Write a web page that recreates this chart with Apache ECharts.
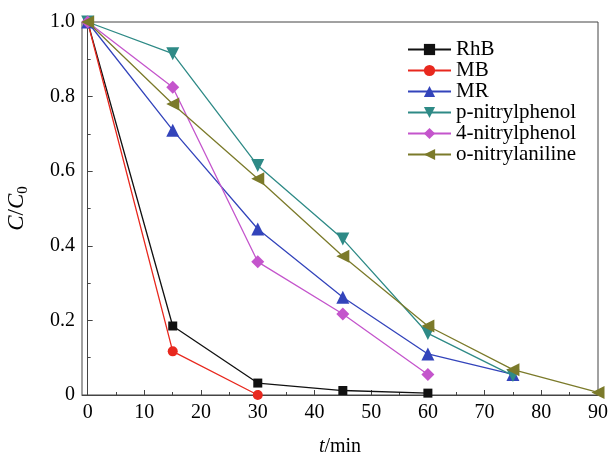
<!DOCTYPE html>
<html>
<head>
<meta charset="utf-8">
<script src="https://cdn.jsdelivr.net/npm/echarts@6/dist/echarts.min.js"></script>
<style>
  html, body { margin: 0; padding: 0; background: #fff; }
  #chart { width: 611px; height: 454px; }
</style>
</head>
<body>
<div id="chart"></div>
<script>
// time points (min)
var times = [0, 15, 30, 45, 60, 75, 90]
var xLabels = [0, 10, 20, 30, 40, 50, 60, 70, 80, 90]
var xMinor = [5, 15, 25, 35, 45, 55, 65, 75, 85]

var rhb = [1.0, 0.185, 0.032, 0.012, 0.005]
var mb = [1.0, 0.117, 0.0]
var mr = [1.0, 0.71, 0.445, 0.262, 0.11, 0.055]
var pNitro = [1.0, 0.915, 0.615, 0.418, 0.165, 0.052]
var fourNitro = [1.0, 0.825, 0.357, 0.217, 0.055]
var oNitro = [1.0, 0.78, 0.58, 0.372, 0.185, 0.068, 0.007]

function pairs (vals) {
  return vals.map(function (v, i) { return [times[i], v] })
}

var font = 'Liberation Serif'
var fs = 20
var myChart = echarts.init(document.getElementById('chart'))

function mkSeries (name, vals, color, symbol, size, rotate) {
  return {
    name: name,
    type: 'line',
    data: pairs(vals),
    symbol: symbol,
    symbolSize: size,
    symbolRotate: rotate || 0,
    lineStyle: { color: color, width: 1.3 },
    itemStyle: { color: color },
    z: 3
  }
}

var option = {
  animation: false,
  grid: {
    left: 82, right: 13, top: 22, bottom: 59,
    outerBoundsMode: 'none', containLabel: false,
    show: true, borderColor: '#444', borderWidth: 1
  },
  legend: {
    orient: 'vertical',
    left: 402,
    top: 34,
    itemWidth: 43,
    itemHeight: 14,
    itemGap: 0,
    textStyle: { fontFamily: font, fontSize: 21, lineHeight: 21, color: '#000' },
    data: ['RhB', 'MB', 'MR', 'p-nitrylphenol', '4-nitrylphenol', 'o-nitrylaniline']
  },
  xAxis: [
    {
      type: 'value',
      min: -1,
      max: 90,
      splitLine: { show: false },
      axisLine: { lineStyle: { color: '#444' } },
      axisTick: { inside: true, length: 5, customValues: xLabels, lineStyle: { color: '#444' } },
      axisLabel: { customValues: xLabels, fontFamily: font, fontSize: fs, color: '#000', margin: 8 },
      name: '{i|t}/min',
      nameLocation: 'middle',
      nameGap: 42,
      nameTextStyle: {
        fontFamily: font, fontSize: fs, color: '#000',
        rich: { i: { fontFamily: font, fontSize: fs, fontStyle: 'italic', color: '#000' } }
      }
    },
    {
      type: 'value',
      min: -1,
      max: 90,
      position: 'bottom',
      splitLine: { show: false },
      axisLine: { show: false },
      axisTick: { inside: true, length: 3, customValues: xMinor, lineStyle: { color: '#444' } },
      axisLabel: { show: false, customValues: xMinor }
    }
  ],
  yAxis: {
    type: 'value',
    min: 0,
    max: 1,
    interval: 0.2,
    splitLine: { show: false },
    axisLine: { show: true, lineStyle: { color: '#444' } },
    axisTick: { show: true, inside: true, length: 5, lineStyle: { color: '#444' } },
    minorTick: { show: true, splitNumber: 2, length: 3, lineStyle: { color: '#444' } },
    axisLabel: {
      fontFamily: font, fontSize: fs, color: '#000', margin: 7,
      formatter: function (v) { return v === 0 ? '0' : v.toFixed(1) }
    },
    name: '{i|C}{n|/}{i|C}{s|0}',
    nameLocation: 'middle',
    nameGap: 51,
    nameTextStyle: {
      fontFamily: font, fontSize: fs, color: '#000',
      rich: {
        i: { fontFamily: font, fontSize: 23, fontStyle: 'italic', color: '#000', lineHeight: 28 },
        n: { fontFamily: font, fontSize: 23, color: '#000', lineHeight: 28 },
        s: { fontFamily: font, fontSize: 15, color: '#000', verticalAlign: 'bottom', lineHeight: 15 }
      }
    }
  },
  series: [
    mkSeries('RhB', rhb, '#111111', 'rect', 9),
    mkSeries('MB', mb, '#e8281e', 'circle', 10),
    mkSeries('MR', mr, '#3344bb', 'triangle', 13),
    mkSeries('p-nitrylphenol', pNitro, '#2e8a86', 'triangle', 13, 180),
    mkSeries('4-nitrylphenol', fourNitro, '#c455cc', 'diamond', 13),
    mkSeries('o-nitrylaniline', oNitro, '#7b7a2a', 'triangle', 13, 90)
  ]
}
myChart.setOption(option)
</script>
</body>
</html>
